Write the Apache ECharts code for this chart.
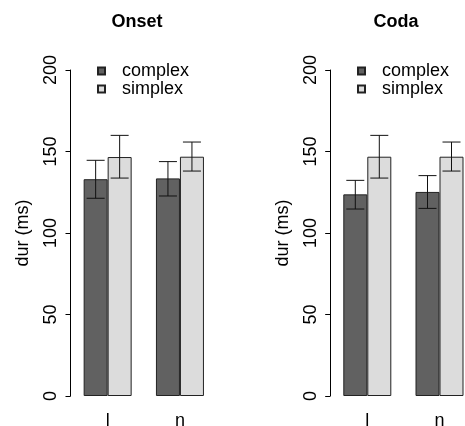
<!DOCTYPE html>
<html>
<head>
<meta charset="utf-8">
<script src="https://cdn.jsdelivr.net/npm/echarts@6/dist/echarts.min.js"></script>
<style>html,body{margin:0;padding:0;background:#fff}#c{width:465px;height:426px}</style>
</head>
<body>
<div id="c"></div>
<script>
var categories = ['l', 'n'];
var yTicks = [0, 50, 100, 150, 200];
var onsetComplex = [133.0, 133.5];
var onsetComplexLo = [121.3, 122.7];
var onsetComplexHi = [144.6, 143.8];
var onsetSimplex = [146.6, 146.8];
var onsetSimplexLo = [133.7, 138.0];
var onsetSimplexHi = [159.9, 155.8];
var codaComplex = [123.7, 125.2];
var codaComplexLo = [114.7, 115.1];
var codaComplexHi = [132.3, 135.2];
var codaSimplex = [146.8, 146.8];
var codaSimplexLo = [133.7, 138.0];
var codaSimplexHi = [159.9, 155.8];

var FONT = 'Liberation Sans, Arial, Helvetica, sans-serif';
var chart = echarts.init(document.getElementById('c'), null, {renderer: 'canvas'});

function errData(lo, hi) {
  return categories.map(function (c, i) { return [i, lo[i], hi[i]]; });
}
function errSeries(gi, lo, hi, side) {
  return {
    type: 'custom', xAxisIndex: gi, yAxisIndex: gi, z: 5, silent: true,
    data: errData(lo, hi),
    renderItem: function (params, api) {
      var pLo = api.coord([api.value(0), api.value(1)]);
      var pHi = api.coord([api.value(0), api.value(2)]);
      var x = pLo[0] + side * 12;
      var h = 9;
      var st = {stroke: '#111', lineWidth: 1};
      return {type: 'group', children: [
        {type: 'line', shape: {x1: x, y1: pLo[1], x2: x, y2: pHi[1]}, style: st},
        {type: 'line', shape: {x1: x - h, y1: pLo[1], x2: x + h, y2: pLo[1]}, style: st},
        {type: 'line', shape: {x1: x - h, y1: pHi[1], x2: x + h, y2: pHi[1]}, style: st}
      ]};
    }
  };
}
function barSeries(gi, name, data, color) {
  return {
    type: 'bar', name: name, xAxisIndex: gi, yAxisIndex: gi, data: data,
    barWidth: 24, barGap: '0%',
    itemStyle: {color: color, borderColor: '#222', borderWidth: 1},
    emphasis: {disabled: true}
  };
}
function yAx(gi) {
  return {
    type: 'value', gridIndex: gi, min: 0, max: 200, interval: 50, offset: 1,
    name: 'dur (ms)', nameLocation: 'middle', nameGap: 38, nameRotate: 90,
    nameTextStyle: {fontSize: 18, color: '#000', fontFamily: FONT},
    axisLine: {show: true, lineStyle: {color: '#000', width: 1}},
    axisTick: {show: true, length: 5, lineStyle: {color: '#000'}},
    axisLabel: {rotate: 90, fontSize: 18, color: '#000', fontFamily: FONT, margin: 10,
      formatter: function (v) { return yTicks.indexOf(v) >= 0 ? String(v) : ''; }},
    splitLine: {show: false}
  };
}
function xAx(gi) {
  return {
    type: 'category', gridIndex: gi, data: categories,
    axisLine: {show: false}, axisTick: {show: false},
    axisLabel: {fontSize: 18, color: '#000', fontFamily: FONT, margin: 16}
  };
}
function legend(left) {
  return {
    orient: 'vertical', left: left, top: 62, padding: 0, itemWidth: 7, itemHeight: 7, itemGap: 0,
    icon: 'rect',
    data: ['complex', 'simplex'], selectedMode: false,
    textStyle: {fontSize: 18, color: '#000', fontFamily: FONT, lineHeight: 17, padding: [0, 0, 0, 12]}
  };
}

chart.setOption({
  animation: false,
  backgroundColor: '#fff',
  title: [
    {text: 'Onset', left: 132, top: 8, textAlign: 'center', textStyle: {fontSize: 18, fontWeight: 'bold', color: '#000', fontFamily: FONT}},
    {text: 'Coda', left: 391, top: 8, textAlign: 'center', textStyle: {fontSize: 18, fontWeight: 'bold', color: '#000', fontFamily: FONT}}
  ],
  legend: [legend(97), legend(357)],
  grid: [
    {left: 71.5, width: 144.6, top: 70, bottom: 30, containLabel: false, outerBoundsMode: 'none'},
    {left: 331.2, width: 144.4, top: 70, bottom: 30, containLabel: false, outerBoundsMode: 'none'}
  ],
  xAxis: [xAx(0), xAx(1)],
  yAxis: [yAx(0), yAx(1)],
  series: [
    barSeries(0, 'complex', onsetComplex, '#616161'),
    barSeries(0, 'simplex', onsetSimplex, '#dcdcdc'),
    barSeries(1, 'complex', codaComplex, '#616161'),
    barSeries(1, 'simplex', codaSimplex, '#dcdcdc'),
    errSeries(0, onsetComplexLo, onsetComplexHi, -1),
    errSeries(0, onsetSimplexLo, onsetSimplexHi, 1),
    errSeries(1, codaComplexLo, codaComplexHi, -1),
    errSeries(1, codaSimplexLo, codaSimplexHi, 1)
  ]
});
</script>
</body>
</html>
